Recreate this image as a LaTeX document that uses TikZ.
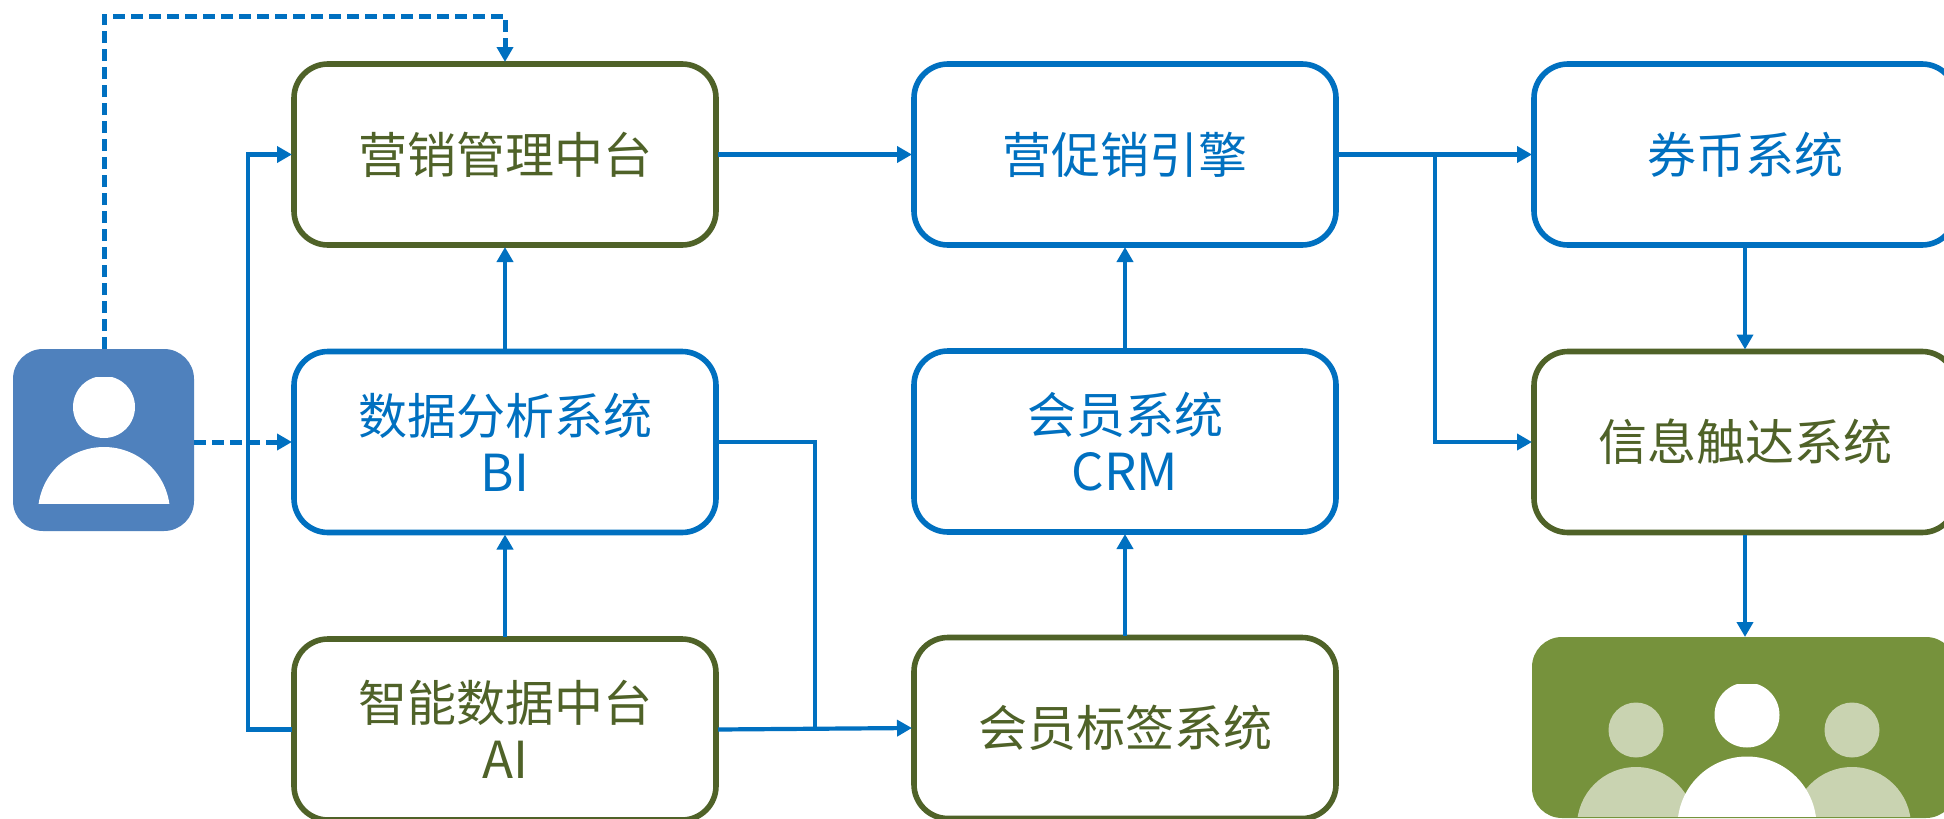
\documentclass[tikz,border=0pt]{standalone}
\usepackage{fontspec}
\setmainfont{Noto Sans CJK SC}
\usetikzlibrary{arrows.meta}
\definecolor{bluec}{HTML}{0070C0}
\definecolor{olivec}{HTML}{4F6228}
\definecolor{personc}{HTML}{4F81BD}
\definecolor{groupc}{HTML}{76923C}
\definecolor{lightc}{HTML}{C9D3B1}
\newcommand{\latinline}[1]{{\fontsize{51}{57}\selectfont #1}}
\tikzset{
  sysbox/.style={draw,line width=5.6pt,fill=white,rounded corners=34pt,minimum width=422pt,minimum height=181pt,inner sep=0pt,outer sep=2pt,align=center,font=\fontsize{49}{57}\selectfont},
  bluebox/.style={sysbox,draw=bluec,text=bluec},
  olivebox/.style={sysbox,draw=olivec,text=olivec},
  conn/.style={draw=bluec,line width=4.2pt,-{Triangle[length=15pt,width=16pt]}},
  plainconn/.style={draw=bluec,line width=4.2pt},
  dashconn/.style={conn,line width=5pt,-{Triangle[length=15pt,width=16pt]},dash pattern=on 12pt off 6pt},
  iconbox/.style={rounded corners=30pt,inner sep=0pt,outer sep=0pt}
}
\begin{document}
\begin{tikzpicture}[x=1pt,y=-1pt]
\clip (0,0) rectangle (1944,819);
\fill[white] (0,0) rectangle (1944,819);
% boxes
\node[olivebox] (mgmt) at (505,154.5) {营销管理中台};
\node[bluebox] (bi) at (505,442) {数据分析系统\\\latinline{BI}};
\node[olivebox] (ai) at (505,729.5) {智能数据中台\\\latinline{AI}};
\node[bluebox] (engine) at (1125,154.5) {营促销引擎};
\node[bluebox] (crm) at (1125,441.5) {会员系统\\\latinline{CRM}};
\node[olivebox] (tags) at (1125,728) {会员标签系统};
\node[bluebox] (coupon) at (1745,154.5) {券币系统};
\node[olivebox] (info) at (1745,442) {信息触达系统};
% person icon
\node[iconbox,fill=personc,minimum width=181pt,minimum height=182pt] (person) at (103.5,440) {};
\begin{scope}
  \clip (60,377) rectangle (150,440);
  \fill[white] (104,407) circle[radius=31pt];
\end{scope}
\begin{scope}
  \clip (30,440) rectangle (180,503);
  \fill[white] (104,513) circle[radius=66pt];
\end{scope}
% group icon
\node[iconbox,fill=groupc,minimum width=424pt,minimum height=181pt] (group) at (1744,727.5) {};
\begin{scope}
  \clip (1540,684) rectangle (1944,816);
  \fill[lightc] (1636,730) circle[radius=27.5pt];
  \fill[lightc] (1852,730) circle[radius=27.5pt];
  \fill[lightc] (1636,826) circle[radius=59pt];
  \fill[lightc] (1852,826) circle[radius=59pt];
  \fill[white] (1747,715) circle[radius=32.5pt];
  \fill[white] (1747,826) circle[radius=69.5pt];
\end{scope}
% waypoints
\coordinate (upleft) at (104,16);
\coordinate (upright) at (505,16);
\coordinate (busl) at (248,729.5);
\coordinate (bust) at (248,154.5);
\coordinate (bir) at (815,442);
\coordinate (bib) at (815,729);
\coordinate (brt) at (1435,154.5);
\coordinate (brb) at (1435,442);
% connectors
\draw[dashconn] (person.north -| upleft) -- (upleft) -- (upright) -- (mgmt.north);
\draw[dashconn] (person.east |- bi.west) -- (bi.west);
\draw[conn] (ai.west) -- (busl) -- (bust) -- (mgmt.west);
\draw[conn] (bi.north) -- (mgmt.south);
\draw[conn] (ai.north) -- (bi.south);
\draw[plainconn] (bi.east) -- (bir) -- (bib);
\draw[conn] (ai.east) -- (tags.west);
\draw[conn] (mgmt.east) -- (engine.west);
\draw[conn] (tags.north) -- (crm.south);
\draw[conn] (crm.north) -- (engine.south);
\draw[conn] (engine.east) -- (coupon.west);
\draw[conn] (brt) -- (brb) -- (info.west);
\draw[conn] (coupon.south) -- (info.north);
\draw[conn] (info.south) -- (group.north -| info.south);
\end{tikzpicture}
\end{document}
